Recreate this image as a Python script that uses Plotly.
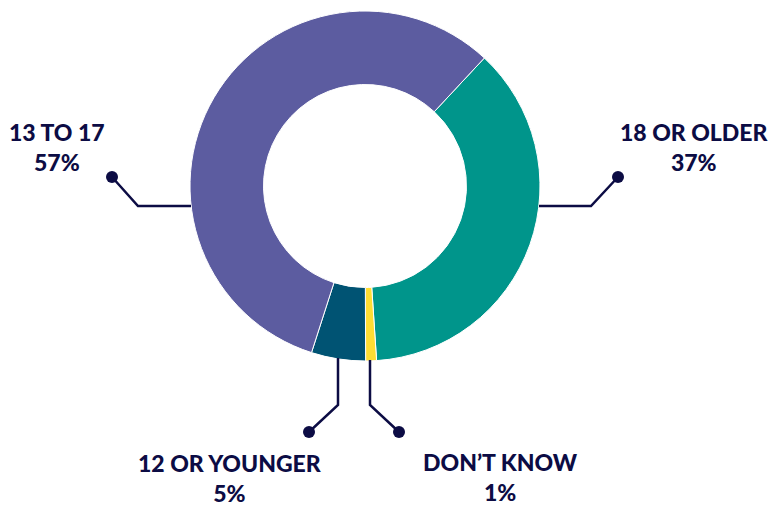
import plotly.graph_objects as go

# Age groups and their shares (percent)
categories = ["18 OR OLDER", "DON\u2019T KNOW", "12 OR YOUNGER", "13 TO 17"]
shares = [37, 1, 5, 57]
colors = ["#00958B", "#FFDD33", "#005373", "#5C5CA0"]

W, H = 771, 508
NAVY = "#0C0C44"


def px_x(x):
    return x / W


def px_y(y):
    return 1 - y / H


# donut placement in pixels
cx, cy, r = 365, 186, 175

fig = go.Figure(
    go.Pie(
        labels=categories,
        values=shares,
        marker=dict(colors=colors, line=dict(color="white", width=1)),
        hole=0.58,
        sort=False,
        direction="clockwise",
        rotation=43,
        textinfo="none",
        hoverinfo="label+percent",
        domain=dict(x=[px_x(cx - r), px_x(cx + r)], y=[px_y(cy + r), px_y(cy - r)]),
        showlegend=False,
    )
)

# label text positions (pixel centre of the two-line block)
label_pos = {
    "13 TO 17": (57, 147),
    "18 OR OLDER": (694, 147),
    "12 OR YOUNGER": (230, 478),
    "DON\u2019T KNOW": (500, 477),
}

# leader lines: polyline points from the ring outward to the dot
leaders = {
    "13 TO 17": [(191, 206), (138, 206), (112, 177)],
    "18 OR OLDER": [(539, 206), (591, 206), (618, 177)],
    "12 OR YOUNGER": [(338, 358), (338, 405), (309, 432)],
    "DON\u2019T KNOW": [(370, 360), (370, 405), (399, 432)],
}

shapes = []
annotations = []
for cat, val in zip(categories, shares):
    pts = leaders[cat]
    path = "M " + " L ".join(f"{px_x(x):.5f},{px_y(y):.5f}" for x, y in pts)
    shapes.append(dict(type="path", xref="paper", yref="paper", path=path,
                       line=dict(color=NAVY, width=2.5)))
    dx, dy = pts[-1]
    rd = 6
    shapes.append(dict(type="circle", xref="paper", yref="paper",
                       x0=px_x(dx - rd), x1=px_x(dx + rd),
                       y0=px_y(dy + rd), y1=px_y(dy - rd),
                       fillcolor=NAVY, line=dict(color=NAVY, width=0)))
    tx, ty = label_pos[cat]
    annotations.append(dict(
        xref="paper", yref="paper", x=px_x(tx), y=px_y(ty),
        xanchor="center", yanchor="middle", showarrow=False,
        text=f"{cat}<br>{val}%",
        font=dict(family="Lato", size=23, color=NAVY, weight=900),
        align="center",
    ))

fig.update_layout(
    width=W, height=H,
    margin=dict(l=0, r=0, t=0, b=0),
    paper_bgcolor="white", plot_bgcolor="white",
    shapes=shapes, annotations=annotations,
)

fig.write_html("out.html")
